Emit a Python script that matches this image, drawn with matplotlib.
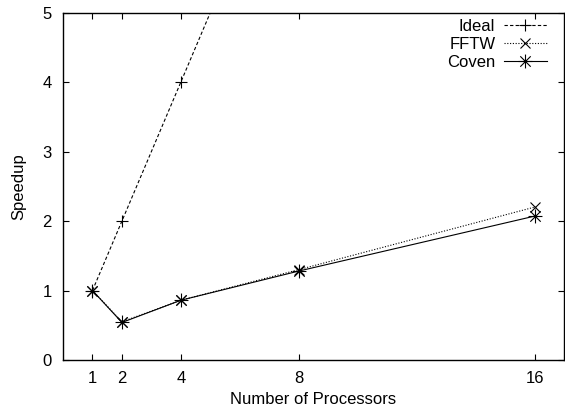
import matplotlib
matplotlib.use("Agg")
import matplotlib.pyplot as plt
from matplotlib.path import Path

plt.rcParams['font.family'] = ['Liberation Sans', 'DejaVu Sans']

processors = [1, 2, 4, 8, 16]
ideal = [1, 2, 4, 8, 16]
fftw = [1.0, 0.55, 0.86, 1.30, 2.20]
coven = [1.0, 0.54, 0.86, 1.28, 2.07]
xticks = [1, 2, 4, 8, 16]
yticks = [0, 1, 2, 3, 4, 5]

# gnuplot-like asterisk marker (plus + cross)
star = Path(
    [(-1, 0), (1, 0), (0, -1), (0, 1), (-0.75, -0.75), (0.75, 0.75), (-0.75, 0.75), (0.75, -0.75)],
    [Path.MOVETO, Path.LINETO] * 4,
)

fig = plt.figure(figsize=(5.65, 4.13), dpi=100)
ax = fig.add_axes([0.1115, 0.1283, 0.8867, 0.8414])

fs = 12
lw = 0.8
ax.plot(processors, ideal, color='black', lw=lw, linestyle=(0, (3, 2)),
        marker='+', markersize=8, markeredgewidth=lw, label='Ideal')
ax.plot(processors, fftw, color='black', lw=lw, linestyle=(0, (1, 1.5)),
        marker='x', markersize=7, markeredgewidth=lw, label='FFTW')
ax.plot(processors, coven, color='black', lw=lw, linestyle='-',
        marker=star, markersize=10, markeredgewidth=lw, label='Coven')

ax.set_xlim(0, 17)
ax.set_ylim(0, 5)
ax.set_xticks(xticks)
ax.set_yticks(yticks)
ax.tick_params(direction='in', length=4, width=0.8, top=True, right=True,
               labelsize=fs, pad=8, colors='black')
for s in ax.spines.values():
    s.set_linewidth(1.0)

ax.set_xlabel('Number of Processors', fontsize=fs, labelpad=4)
ax.set_ylabel('Speedup', fontsize=fs, labelpad=12)

leg = ax.legend(loc='upper right', bbox_to_anchor=(0.966, 0.981),
                markerfirst=False, frameon=False, borderaxespad=0, borderpad=0,
                fontsize=fs, handlelength=2.6, handletextpad=0.5,
                labelspacing=0.17, numpoints=1)

fig.savefig('out.png', dpi=100)
